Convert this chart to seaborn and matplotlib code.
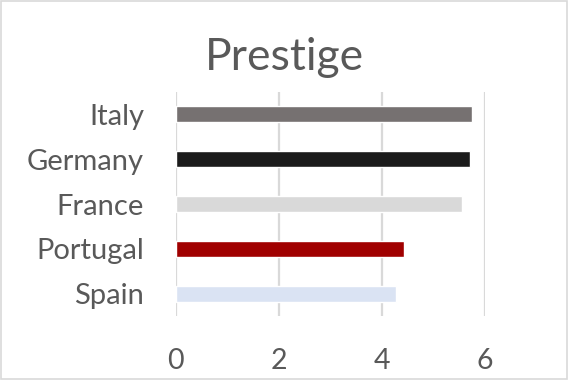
import matplotlib
matplotlib.use("Agg")
import matplotlib.pyplot as plt
from matplotlib.patches import Rectangle
import seaborn as sns
import pandas as pd

countries = ["Italy", "Germany", "France", "Portugal", "Spain"]
prestige = [5.76, 5.72, 5.56, 4.44, 4.28]
bar_colors = ["#767171", "#1b1b1b", "#d9d9d9", "#a00000", "#dae3f3"]
x_ticks = [0, 2, 4, 6]

sns.set_style("white")
plt.rcParams["font.family"] = ["Lato", "DejaVu Sans"]

df = pd.DataFrame({"country": countries, "score": prestige})

fig = plt.figure(figsize=(5.69, 3.80), dpi=100)
ax = fig.add_axes([0.309, 0.168, 0.543, 0.590])

sns.barplot(data=df, x="score", y="country", hue="country",
            palette=dict(zip(countries, bar_colors)), order=countries,
            orient="h", width=0.356, saturation=1, legend=False, ax=ax, zorder=3)

ax.set_xlim(0, 6)
ax.set_ylim(4.5, -0.5)
ax.set_xticks(x_ticks)
ax.set_xticklabels([str(t) for t in x_ticks])
ax.set_xlabel("")
ax.set_ylabel("")
ax.grid(axis="x", color="#d9d9d9", linewidth=1.6, zorder=0)
ax.grid(axis="y", visible=False)
for s in ax.spines.values():
    s.set_visible(False)
ax.tick_params(axis="y", length=0, pad=23, labelsize=21, labelcolor="#595959")
ax.tick_params(axis="x", length=0, pad=23, labelsize=20.5, labelcolor="#595959")

fig.text(0.5, 1 - 70 / 380, "Prestige", ha="center", va="baseline",
         fontsize=32, color="#595959")

fig.patches.append(Rectangle((0.002, 0.003), 0.995, 0.994, transform=fig.transFigure,
                             fill=False, edgecolor="#d9d9d9", linewidth=1.2))

fig.savefig("out.png", dpi=100, facecolor="white")
